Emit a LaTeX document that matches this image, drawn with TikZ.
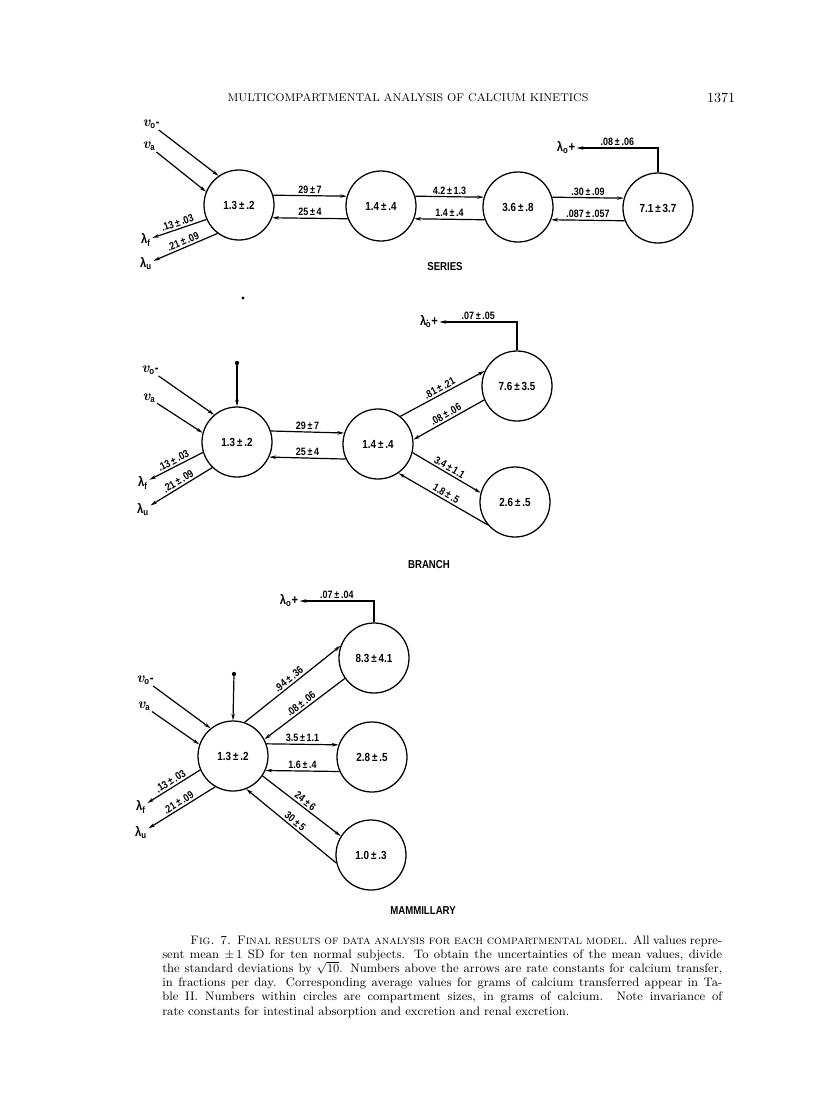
\documentclass[tikz,border=0pt]{standalone}
\usepackage{fontspec}
\usetikzlibrary{arrows.meta}
\newfontfamily\dg[FakeStretch=0.84]{Liberation Sans}
\newcommand{\myv}[1]{{\rmfamily\bfseries\itshape\fontsize{11}{11}\selectfont v}\textsubscript{\dg\bfseries #1}}
\tikzset{
  comp/.style={circle, draw, line width=0.95pt, minimum size=52.5pt, inner sep=0pt,
    font=\dg\bfseries\fontsize{8.8}{9}\selectfont},
  arr/.style={-{Stealth[length=5pt,width=2.6pt]}, line width=0.9pt},
  lbl/.style={font=\dg\bfseries\fontsize{8}{8}\selectfont, inner sep=1.3pt},
  lam/.style={font=\dg\bfseries\fontsize{10}{10}\selectfont, inner sep=1pt},
  ttl/.style={font=\dg\bfseries\fontsize{8.6}{9}\selectfont, inner sep=0pt},
  src/.style={circle, fill, inner sep=0pt, minimum size=3.2pt},
  capl/.style={font=\fontsize{9.2}{10.6}\selectfont, inner sep=0pt, anchor=base west},
}
\begin{document}
\begin{tikzpicture}[x=0.75pt,y=-0.75pt]
\useasboundingbox (0,0) rectangle (816,1100);
\fill[white] (0,0) rectangle (816,1100);
% header
\node[font=\fontsize{8.4}{10}\selectfont, inner sep=0pt] (hdr) at (408,98) {MULTICOMPARTMENTAL ANALYSIS OF CALCIUM KINETICS};
\node[font=\fontsize{10.5}{12}\selectfont, inner sep=0pt] (pg) at (721,98) {1371};

% ================= SERIES =================
\node[comp] (A) at (239,205) {1.3\,±\,.2};
\node[comp] (B) at (381,206) {1.4\,±\,.4};
\node[comp] (C) at (518,207) {3.6\,±\,.8};
\node[comp] (D) at (658,208) {7.1\,±\,3.7};
\draw[arr] (A.16) -- node[lbl,above]{29\,±\,7} (B.164);
\draw[arr] (B.201) -- node[lbl,above]{25\,±\,4} (A.-21);
\draw[arr] (B.16) -- node[lbl,above]{4.2\,±\,1.3} (C.164);
\draw[arr] (C.201) -- node[lbl,above]{1.4\,±\,.4} (B.-21);
\draw[arr] (C.16) -- node[lbl,above]{.30\,±\,.09} (D.164);
\draw[arr] (D.201) -- node[lbl,above]{.087\,±\,.057} (C.-21);
\node[lam] (lo1) at (566,148) {λ\textsubscript{o}+};
\draw[arr] (D.north) |- node[lbl,above,pos=0.75]{.08\,±\,.06} (lo1.east);
\node[lam] (vo1) at (151,124) {\myv{o}-};
\node[lam] (va1) at (149,146) {\myv{a}};
\draw[arr] (vo1) -- (A.125);
\draw[arr] (va1) -- (A.158);
\node[lam] (lf1) at (146,240) {λ\textsubscript{f}};
\node[lam] (lu1) at (146,264) {λ\textsubscript{u}};
\draw[arr] (A.204) -- node[lbl,above,sloped]{.13\,±\,.03} (lf1);
\draw[arr] (A.233) -- node[lbl,above,sloped]{.21\,±\,.09} (lu1);
\node[ttl] (t1) at (445,267) {SERIES};

\node[src, minimum size=2.6pt] (speck) at (243,298) {};

% ================= BRANCH =================
\node[comp] (A2) at (237,442) {1.3\,±\,.2};
\node[comp] (B2) at (378,444) {1.4\,±\,.4};
\node[comp] (C2) at (517,386) {7.6\,±\,3.5};
\node[comp] (D2) at (515,502) {2.6\,±\,.5};
\node[src] (s2) at (237,363) {};
\draw[arr] (s2) -- (A2.north);
\node[lam] (vo2) at (150,370) {\myv{o}-};
\node[lam] (va2) at (149,398) {\myv{a}};
\draw[arr] (vo2) -- (A2.130);
\draw[arr] (va2) -- (A2.165);
\node[lam] (lf2) at (143,483) {λ\textsubscript{f}};
\node[lam] (lu2) at (143,510) {λ\textsubscript{u}};
\draw[arr] (A2.197) -- node[lbl,above,sloped]{.13\,±\,.03} (lf2);
\draw[arr] (A2.226) -- node[lbl,above,sloped]{.21\,±\,.09} (lu2);
\draw[arr] (A2.18) -- node[lbl,above]{29\,±\,7} (B2.162);
\draw[arr] (B2.205) -- node[lbl,above]{25\,±\,4} (A2.-25);
\draw[arr] (B2.51) -- node[lbl,above,sloped]{.81\,±\,.21} (C2.155);
\draw[arr] (C2.203) -- node[lbl,above,sloped]{.08\,±\,.06} (B2.7);
\draw[arr] (B2.-14) -- node[lbl,above,sloped]{3.4\,±\,1.1} (D2.165);
\draw[arr] (D2.220) -- node[lbl,above,sloped]{1.8\,±\,.5} (B2.-55);
\node[lam] (lo2) at (429,322) {λ\textsuperscript{.}\kern-2.5pt\textsubscript{o}+};
\draw[arr] (C2.north) |- node[lbl,above,pos=0.75]{.07\,±\,.05} (lo2.east);
\node[ttl] (t2) at (429,565) {BRANCH};

% ================= MAMMILLARY =================
\node[comp] (A3) at (233,756) {1.3\,±\,.2};
\node[comp] (M1) at (374,658) {8.3\,±\,4.1};
\node[comp] (M2) at (372,757) {2.8\,±\,.5};
\node[comp] (M3) at (371,855) {1.0\,±\,.3};
\node[src] (s3) at (234,674) {};
\draw[arr] (s3) -- (A3.north);
\node[lam] (vo3) at (145,680) {\myv{o}-};
\node[lam] (va3) at (144,706) {\myv{a}};
\draw[arr] (vo3) -- (A3.129);
\draw[arr] (va3) -- (A3.161);
\node[lam] (lf3) at (141,807) {λ\textsubscript{f}};
\node[lam] (lu3) at (141,833) {λ\textsubscript{u}};
\draw[arr] (A3.203) -- node[lbl,above,sloped]{.13\,±\,.03} (lf3);
\draw[arr] (A3.240) -- node[lbl,above,sloped]{.21\,±\,.09} (lu3);
\draw[arr] (A3.71) -- node[lbl,above,sloped]{.94\,±\,.36} (M1.160);
\draw[arr] (M1.215) -- node[lbl,above,sloped]{.08\,±\,.06} (A3.28);
\draw[arr] (A3.20) -- node[lbl,above]{3.5\,±\,1.1} (M2.160);
\draw[arr] (M2.204) -- node[lbl,above]{1.6\,±\,.4} (A3.-24);
\draw[arr] (A3.-34) -- node[lbl,above,sloped]{24\,±\,6} (M3.148);
\draw[arr] (M3.193) -- node[lbl,above,sloped]{30\,±\,5} (A3.-68);
\node[lam] (lo3) at (289,601) {λ\textsubscript{o}+};
\draw[arr] (M1.north) |- node[lbl,above,pos=0.75]{.07\,±\,.04} (lo3.east);
\node[ttl] (t3) at (423,911) {MAMMILLARY};

% ================= CAPTION =================
\node[capl] (c1) at (190,944) {\makebox[399pt][s]{\textsc{Fig. 7. Final results of data analysis for each compartmental model.} All values repre-}};
\node[capl] (c2) at (162,958.2) {\makebox[420pt][s]{sent mean $\pm$\,1 SD for ten normal subjects. To obtain the uncertainties of the mean values, divide}};
\node[capl] (c3) at (162,972.4) {\makebox[420pt][s]{the standard deviations by $\sqrt{10}$. Numbers above the arrows are rate constants for calcium transfer,}};
\node[capl] (c4) at (162,986.6) {\makebox[420pt][s]{in fractions per day. Corresponding average values for grams of calcium transferred appear in Ta-}};
\node[capl] (c5) at (162,1000.8) {\makebox[420pt][s]{ble II. Numbers within circles are compartment sizes, in grams of calcium. Note invariance of}};
\node[capl] (c6) at (162,1015) {rate constants for intestinal absorption and excretion and renal excretion.};
\end{tikzpicture}
\end{document}
